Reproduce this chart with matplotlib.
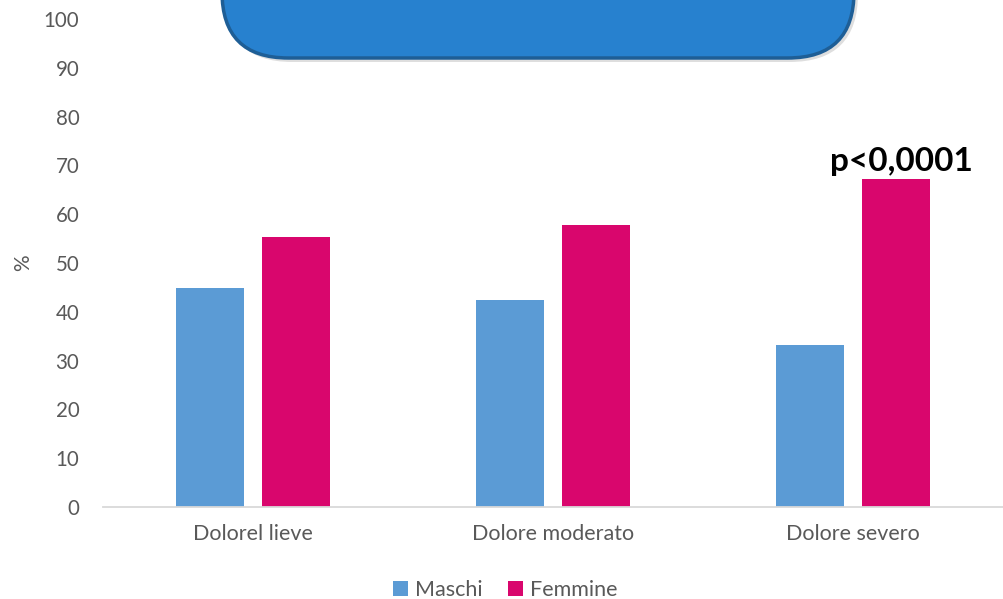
import numpy as np
import matplotlib.pyplot as plt
from matplotlib.patches import FancyBboxPatch

categories = ['Dolorel lieve', 'Dolore moderato', 'Dolore severo']
maschi = [44.8, 42.5, 33.1]
femmine = [55.4, 57.8, 67.2]
series_names = ['Maschi', 'Femmine']
p_label = 'p<0,0001'

plt.rcParams['font.family'] = ['Lato', 'DejaVu Sans']

fig = plt.figure(figsize=(10.04, 5.99), dpi=100)
ax = fig.add_axes([0.1026, 0.1536, 0.896, 0.8146])

x = np.arange(len(categories))
w = 0.227
off = 0.143
ax.bar(x - off, maschi, w, color='#5B9BD5', label=series_names[0])
ax.bar(x + off, femmine, w, color='#D9066D', label=series_names[1])

ax.set_xlim(-0.5, 2.5)
ax.set_ylim(0, 100)
ax.set_yticks(range(0, 101, 10))
ax.set_xticks(x)
ax.set_xticklabels(categories)
ax.tick_params(length=0, colors='#595959')
ax.tick_params(axis='y', labelsize=14.8, pad=17)
ax.tick_params(axis='x', labelsize=15.5, pad=12)
for s in ['top', 'left', 'right']:
    ax.spines[s].set_visible(False)
ax.spines['bottom'].set_color('#D9D9D9')
ax.spines['bottom'].set_linewidth(1.3)
ax.set_ylabel('%', fontsize=15, color='#595959', labelpad=8)

ax.text(2 + off + 0.02, 67.8, p_label, ha='center', va='bottom', fontsize=24,
        fontweight='bold', color='black')

ax.legend(loc='lower center', bbox_to_anchor=(0.447, -0.23), ncol=2,
          frameon=False, fontsize=15.5, handlelength=0.7, handleheight=0.7,
          handletextpad=0.3, columnspacing=1.2, labelcolor='#595959')

# blue header box (cut off at top)
W, H = 1004.0, 599.0
shadow = FancyBboxPatch((224 / W, (599 - 62) / H), 634 / W, 200 / H,
                        boxstyle='round,pad=0,rounding_size=0.068',
                        transform=fig.transFigure, facecolor='#C8C8C8',
                        edgecolor='none', alpha=0.6, mutation_aspect=W / H)
fig.patches.append(shadow)
box = FancyBboxPatch((222 / W, (599 - 58) / H), 632 / W, 200 / H,
                     boxstyle='round,pad=0,rounding_size=0.066',
                     transform=fig.transFigure, facecolor='#2781CF',
                     edgecolor='#1E5E96', linewidth=2.5, mutation_aspect=W / H)
fig.patches.append(box)

fig.savefig('out.png', dpi=100)
